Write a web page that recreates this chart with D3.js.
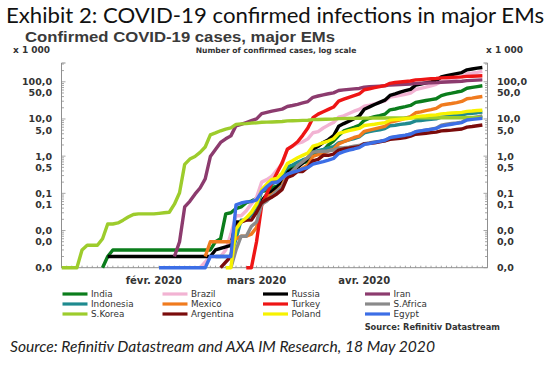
<!DOCTYPE html>
<html><head><meta charset="utf-8">
<script src="https://cdn.jsdelivr.net/npm/d3@7"></script>
<style>body{margin:0;background:#fff}svg{display:block}</style>
</head><body>
<svg id="c" width="549" height="365"></svg>
<script>
// ---------- DATA (cases, thousands; weekday observations) ----------
const seriesNames = ["India","Brazil","Russia","Iran","Indonesia","Mexico","Turkey","S.Africa","S.Korea","Argentina","Poland","Egypt"];

const india = [["2020-01-31",0.001],["2020-02-03",0.002],["2020-02-04",0.003],["2020-03-02",0.003],["2020-03-03",0.005],["2020-03-04",0.006],["2020-03-05",0.028],["2020-03-06",0.03],["2020-03-09",0.039],["2020-03-10",0.043],["2020-03-11",0.056],["2020-03-12",0.062],["2020-03-13",0.073],["2020-03-16",0.113],["2020-03-17",0.119],["2020-03-18",0.142],["2020-03-19",0.156],["2020-03-20",0.194],["2020-03-23",0.396],["2020-03-24",0.499],["2020-03-25",0.536],["2020-03-26",0.657],["2020-03-27",0.727],["2020-03-30",1.024],["2020-03-31",1.251],["2020-04-01",1.397],["2020-04-02",1.998],["2020-04-03",2.543],["2020-04-06",3.588],["2020-04-07",4.778],["2020-04-08",5.311],["2020-04-09",5.916],["2020-04-10",6.725],["2020-04-13",9.205],["2020-04-14",10.453],["2020-04-15",11.487],["2020-04-16",12.322],["2020-04-17",13.43],["2020-04-20",17.615],["2020-04-21",18.539],["2020-04-22",20.08],["2020-04-23",21.37],["2020-04-24",23.077],["2020-04-27",27.89],["2020-04-28",29.451],["2020-04-29",31.324],["2020-04-30",33.062],["2020-05-01",34.863],["2020-05-04",42.505],["2020-05-05",46.437],["2020-05-06",49.4],["2020-05-07",52.987],["2020-05-08",56.351],["2020-05-11",67.161],["2020-05-12",70.768],["2020-05-13",74.292],["2020-05-14",78.055]];

const brazil = [["2020-02-27",0.001],["2020-03-02",0.002],["2020-03-04",0.002],["2020-03-05",0.003],["2020-03-06",0.008],["2020-03-09",0.025],["2020-03-10",0.025],["2020-03-11",0.034],["2020-03-12",0.052],["2020-03-13",0.077],["2020-03-16",0.2],["2020-03-17",0.234],["2020-03-18",0.291],["2020-03-19",0.428],["2020-03-20",0.621],["2020-03-23",1.546],["2020-03-24",1.891],["2020-03-25",2.201],["2020-03-26",2.433],["2020-03-27",2.915],["2020-03-30",4.256],["2020-03-31",4.579],["2020-04-01",5.717],["2020-04-02",6.836],["2020-04-03",8.044],["2020-04-06",11.13],["2020-04-07",12.161],["2020-04-08",14.034],["2020-04-09",16.17],["2020-04-10",18.092],["2020-04-13",22.169],["2020-04-14",23.43],["2020-04-15",25.262],["2020-04-16",28.32],["2020-04-17",30.425],["2020-04-20",38.654],["2020-04-21",40.581],["2020-04-22",43.079],["2020-04-23",45.757],["2020-04-24",49.492],["2020-04-27",61.888],["2020-04-28",66.501],["2020-04-29",71.886],["2020-04-30",78.162],["2020-05-01",85.38],["2020-05-04",101.147],["2020-05-05",107.78],["2020-05-06",114.715],["2020-05-07",125.218],["2020-05-08",135.106],["2020-05-11",162.699],["2020-05-12",169.594],["2020-05-13",178.214],["2020-05-14",190.137]];

const russia = [["2020-02-03",0.002],["2020-03-02",0.002],["2020-03-03",0.003],["2020-03-06",0.004],["2020-03-09",0.017],["2020-03-10",0.017],["2020-03-11",0.02],["2020-03-12",0.028],["2020-03-13",0.034],["2020-03-16",0.063],["2020-03-17",0.093],["2020-03-18",0.114],["2020-03-19",0.147],["2020-03-20",0.199],["2020-03-23",0.367],["2020-03-24",0.438],["2020-03-25",0.495],["2020-03-26",0.658],["2020-03-27",0.84],["2020-03-30",1.534],["2020-03-31",1.836],["2020-04-01",2.337],["2020-04-02",2.777],["2020-04-03",3.548],["2020-04-06",6.343],["2020-04-07",7.497],["2020-04-08",8.672],["2020-04-09",10.131],["2020-04-10",11.917],["2020-04-13",18.328],["2020-04-14",21.102],["2020-04-15",24.49],["2020-04-16",27.938],["2020-04-17",32.008],["2020-04-20",42.853],["2020-04-21",47.121],["2020-04-22",52.763],["2020-04-23",57.999],["2020-04-24",62.773],["2020-04-27",80.949],["2020-04-28",87.147],["2020-04-29",93.558],["2020-04-30",99.399],["2020-05-01",106.498],["2020-05-04",134.687],["2020-05-05",145.268],["2020-05-06",155.37],["2020-05-07",165.929],["2020-05-08",177.16],["2020-05-11",209.688],["2020-05-12",221.344],["2020-05-13",232.243],["2020-05-14",242.271]];

const iran = [["2020-02-20",0.002],["2020-02-21",0.005],["2020-02-24",0.043],["2020-02-25",0.061],["2020-02-26",0.095],["2020-02-27",0.139],["2020-02-28",0.245],["2020-03-02",0.978],["2020-03-03",1.501],["2020-03-04",2.336],["2020-03-05",2.922],["2020-03-06",3.513],["2020-03-09",6.566],["2020-03-10",7.161],["2020-03-11",8.042],["2020-03-12",9.0],["2020-03-13",10.075],["2020-03-16",13.938],["2020-03-17",14.991],["2020-03-18",16.169],["2020-03-19",17.361],["2020-03-20",18.407],["2020-03-23",21.638],["2020-03-24",23.049],["2020-03-25",24.811],["2020-03-26",27.017],["2020-03-27",29.406],["2020-03-30",38.309],["2020-03-31",41.495],["2020-04-01",44.605],["2020-04-02",47.593],["2020-04-03",50.468],["2020-04-06",58.226],["2020-04-07",60.5],["2020-04-08",62.589],["2020-04-09",64.586],["2020-04-10",66.22],["2020-04-13",71.686],["2020-04-14",73.303],["2020-04-15",74.877],["2020-04-16",76.389],["2020-04-17",77.995],["2020-04-20",82.211],["2020-04-21",83.505],["2020-04-22",84.802],["2020-04-23",85.996],["2020-04-24",87.026],["2020-04-27",90.481],["2020-04-28",91.472],["2020-04-29",92.584],["2020-04-30",93.657],["2020-05-01",94.64],["2020-05-04",97.424],["2020-05-05",98.647],["2020-05-06",99.97],["2020-05-07",101.65],["2020-05-08",103.135],["2020-05-11",107.603],["2020-05-12",109.286],["2020-05-13",110.767],["2020-05-14",112.725]];

const indonesia = [["2020-03-03",0.002],["2020-03-06",0.002],["2020-03-09",0.006],["2020-03-10",0.019],["2020-03-11",0.019],["2020-03-12",0.027],["2020-03-13",0.034],["2020-03-16",0.117],["2020-03-17",0.134],["2020-03-18",0.172],["2020-03-19",0.227],["2020-03-20",0.311],["2020-03-23",0.514],["2020-03-24",0.579],["2020-03-25",0.686],["2020-03-26",0.79],["2020-03-27",0.893],["2020-03-30",1.285],["2020-03-31",1.414],["2020-04-01",1.528],["2020-04-02",1.677],["2020-04-03",1.79],["2020-04-06",2.273],["2020-04-07",2.491],["2020-04-08",2.738],["2020-04-09",2.956],["2020-04-10",3.293],["2020-04-13",4.241],["2020-04-14",4.557],["2020-04-15",4.839],["2020-04-16",5.136],["2020-04-17",5.516],["2020-04-20",6.575],["2020-04-21",6.76],["2020-04-22",7.135],["2020-04-23",7.418],["2020-04-24",7.775],["2020-04-27",8.882],["2020-04-28",9.096],["2020-04-29",9.511],["2020-04-30",9.771],["2020-05-01",10.118],["2020-05-04",11.192],["2020-05-05",11.587],["2020-05-06",12.071],["2020-05-07",12.438],["2020-05-08",12.776],["2020-05-11",14.032],["2020-05-12",14.265],["2020-05-13",14.749],["2020-05-14",15.438]];

const mexico = [["2020-02-28",0.002],["2020-03-02",0.005],["2020-03-06",0.005],["2020-03-09",0.006],["2020-03-10",0.007],["2020-03-11",0.007],["2020-03-12",0.008],["2020-03-13",0.012],["2020-03-16",0.053],["2020-03-17",0.082],["2020-03-18",0.093],["2020-03-19",0.118],["2020-03-20",0.164],["2020-03-23",0.316],["2020-03-24",0.367],["2020-03-25",0.405],["2020-03-26",0.475],["2020-03-27",0.585],["2020-03-30",0.993],["2020-03-31",1.094],["2020-04-01",1.215],["2020-04-02",1.378],["2020-04-03",1.51],["2020-04-06",2.143],["2020-04-07",2.439],["2020-04-08",2.785],["2020-04-09",3.181],["2020-04-10",3.441],["2020-04-13",4.661],["2020-04-14",5.014],["2020-04-15",5.399],["2020-04-16",5.847],["2020-04-17",6.297],["2020-04-20",8.261],["2020-04-21",8.772],["2020-04-22",9.501],["2020-04-23",10.544],["2020-04-24",11.633],["2020-04-27",14.677],["2020-04-28",15.529],["2020-04-29",16.752],["2020-04-30",17.799],["2020-05-01",19.224],["2020-05-04",23.471],["2020-05-05",24.905],["2020-05-06",26.025],["2020-05-07",27.634],["2020-05-08",29.616],["2020-05-11",35.022],["2020-05-12",36.327],["2020-05-13",38.324],["2020-05-14",40.186]];

const turkey = [["2020-03-11",0.001],["2020-03-12",0.001],["2020-03-13",0.005],["2020-03-16",0.047],["2020-03-17",0.098],["2020-03-18",0.191],["2020-03-19",0.359],["2020-03-20",0.67],["2020-03-23",1.529],["2020-03-24",1.872],["2020-03-25",2.433],["2020-03-26",3.629],["2020-03-27",5.698],["2020-03-30",10.827],["2020-03-31",13.531],["2020-04-01",15.679],["2020-04-02",18.135],["2020-04-03",20.921],["2020-04-06",30.217],["2020-04-07",34.109],["2020-04-08",38.226],["2020-04-09",42.282],["2020-04-10",47.029],["2020-04-13",61.049],["2020-04-14",65.111],["2020-04-15",69.392],["2020-04-16",74.193],["2020-04-17",78.546],["2020-04-20",90.98],["2020-04-21",95.591],["2020-04-22",98.674],["2020-04-23",101.79],["2020-04-24",104.912],["2020-04-27",112.261],["2020-04-28",114.653],["2020-04-29",117.589],["2020-04-30",120.204],["2020-05-01",122.392],["2020-05-04",127.659],["2020-05-05",129.491],["2020-05-06",131.744],["2020-05-07",133.721],["2020-05-08",135.569],["2020-05-11",139.771],["2020-05-12",141.475],["2020-05-13",143.114],["2020-05-14",144.749]];

const safrica = [["2020-03-06",0.001],["2020-03-09",0.003],["2020-03-10",0.007],["2020-03-11",0.007],["2020-03-12",0.013],["2020-03-13",0.017],["2020-03-16",0.051],["2020-03-17",0.062],["2020-03-18",0.085],["2020-03-19",0.116],["2020-03-20",0.15],["2020-03-23",0.274],["2020-03-24",0.402],["2020-03-25",0.554],["2020-03-26",0.709],["2020-03-27",0.927],["2020-03-30",1.28],["2020-03-31",1.326],["2020-04-01",1.353],["2020-04-02",1.38],["2020-04-03",1.462],["2020-04-06",1.655],["2020-04-07",1.686],["2020-04-08",1.749],["2020-04-09",1.845],["2020-04-10",1.934],["2020-04-13",2.173],["2020-04-14",2.272],["2020-04-15",2.415],["2020-04-16",2.506],["2020-04-17",2.605],["2020-04-20",3.158],["2020-04-21",3.3],["2020-04-22",3.465],["2020-04-23",3.635],["2020-04-24",3.953],["2020-04-27",4.546],["2020-04-28",4.793],["2020-04-29",4.996],["2020-04-30",5.35],["2020-05-01",5.647],["2020-05-04",6.783],["2020-05-05",7.22],["2020-05-06",7.572],["2020-05-07",7.808],["2020-05-08",8.232],["2020-05-11",10.015],["2020-05-12",10.652],["2020-05-13",11.35],["2020-05-14",12.074]];

const skorea = [["2020-01-21",0.001],["2020-01-24",0.001],["2020-01-27",0.003],["2020-01-28",0.004],["2020-01-30",0.004],["2020-01-31",0.006],["2020-02-03",0.015],["2020-02-04",0.015],["2020-02-05",0.016],["2020-02-06",0.019],["2020-02-07",0.023],["2020-02-10",0.027],["2020-02-11",0.028],["2020-02-14",0.028],["2020-02-17",0.029],["2020-02-18",0.03],["2020-02-19",0.031],["2020-02-20",0.051],["2020-02-21",0.104],["2020-02-24",0.602],["2020-02-25",0.833],["2020-02-26",0.977],["2020-02-27",1.261],["2020-02-28",1.766],["2020-03-02",3.736],["2020-03-03",4.212],["2020-03-04",4.812],["2020-03-05",5.328],["2020-03-06",5.766],["2020-03-09",7.134],["2020-03-10",7.382],["2020-03-11",7.513],["2020-03-12",7.755],["2020-03-13",7.869],["2020-03-16",8.162],["2020-03-17",8.236],["2020-03-18",8.32],["2020-03-19",8.413],["2020-03-20",8.565],["2020-03-23",8.897],["2020-03-24",8.961],["2020-03-25",9.037],["2020-03-26",9.137],["2020-03-27",9.241],["2020-03-30",9.583],["2020-03-31",9.661],["2020-04-03",9.976],["2020-04-06",10.237],["2020-04-10",10.45],["2020-04-13",10.512],["2020-04-17",10.635],["2020-04-20",10.674],["2020-04-24",10.708],["2020-04-27",10.738],["2020-05-01",10.774],["2020-05-04",10.804],["2020-05-08",10.822],["2020-05-11",10.909],["2020-05-14",10.991]];

const argentina = [["2020-03-04",0.001],["2020-03-06",0.002],["2020-03-09",0.012],["2020-03-10",0.017],["2020-03-11",0.019],["2020-03-12",0.019],["2020-03-13",0.031],["2020-03-16",0.056],["2020-03-17",0.068],["2020-03-18",0.079],["2020-03-19",0.097],["2020-03-20",0.128],["2020-03-23",0.266],["2020-03-24",0.301],["2020-03-25",0.387],["2020-03-26",0.387],["2020-03-27",0.502],["2020-03-30",0.745],["2020-03-31",0.82],["2020-04-01",1.054],["2020-04-02",1.054],["2020-04-03",1.133],["2020-04-06",1.451],["2020-04-07",1.554],["2020-04-08",1.628],["2020-04-09",1.715],["2020-04-10",1.795],["2020-04-13",2.142],["2020-04-14",2.208],["2020-04-15",2.277],["2020-04-16",2.443],["2020-04-17",2.571],["2020-04-20",2.839],["2020-04-21",2.941],["2020-04-22",3.031],["2020-04-23",3.144],["2020-04-24",3.435],["2020-04-27",3.892],["2020-04-28",4.003],["2020-04-29",4.127],["2020-04-30",4.285],["2020-05-01",4.428],["2020-05-04",4.783],["2020-05-05",4.887],["2020-05-06",5.02],["2020-05-07",5.208],["2020-05-08",5.371],["2020-05-11",6.034],["2020-05-12",6.265],["2020-05-13",6.563],["2020-05-14",6.879]];

const poland = [["2020-03-05",0.001],["2020-03-06",0.001],["2020-03-09",0.011],["2020-03-10",0.017],["2020-03-11",0.022],["2020-03-12",0.031],["2020-03-13",0.051],["2020-03-16",0.125],["2020-03-17",0.177],["2020-03-18",0.238],["2020-03-19",0.251],["2020-03-20",0.355],["2020-03-23",0.634],["2020-03-24",0.749],["2020-03-25",0.901],["2020-03-26",1.051],["2020-03-27",1.221],["2020-03-30",1.862],["2020-03-31",2.055],["2020-04-01",2.311],["2020-04-02",2.554],["2020-04-03",2.946],["2020-04-06",4.102],["2020-04-07",4.413],["2020-04-08",4.848],["2020-04-09",5.205],["2020-04-10",5.575],["2020-04-13",6.674],["2020-04-14",6.934],["2020-04-15",7.202],["2020-04-16",7.582],["2020-04-17",7.918],["2020-04-20",9.287],["2020-04-21",9.593],["2020-04-22",9.856],["2020-04-23",10.169],["2020-04-24",10.511],["2020-04-27",11.617],["2020-04-28",11.902],["2020-04-29",12.218],["2020-04-30",12.64],["2020-05-01",12.877],["2020-05-04",13.693],["2020-05-05",14.006],["2020-05-06",14.431],["2020-05-07",14.74],["2020-05-08",15.047],["2020-05-11",15.996],["2020-05-12",16.326],["2020-05-13",16.921],["2020-05-14",17.204]];

const egypt = [["2020-02-17",0.001],["2020-02-28",0.001],["2020-03-02",0.002],["2020-03-06",0.002],["2020-03-09",0.049],["2020-03-10",0.055],["2020-03-11",0.059],["2020-03-12",0.06],["2020-03-13",0.067],["2020-03-16",0.11],["2020-03-17",0.15],["2020-03-18",0.196],["2020-03-19",0.196],["2020-03-20",0.256],["2020-03-23",0.327],["2020-03-24",0.366],["2020-03-25",0.402],["2020-03-26",0.456],["2020-03-27",0.495],["2020-03-30",0.609],["2020-03-31",0.656],["2020-04-01",0.71],["2020-04-02",0.779],["2020-04-03",0.865],["2020-04-06",1.173],["2020-04-07",1.322],["2020-04-08",1.45],["2020-04-09",1.56],["2020-04-10",1.699],["2020-04-13",2.065],["2020-04-14",2.19],["2020-04-15",2.35],["2020-04-16",2.505],["2020-04-17",2.673],["2020-04-20",3.144],["2020-04-21",3.333],["2020-04-22",3.49],["2020-04-23",3.659],["2020-04-24",3.891],["2020-04-27",4.534],["2020-04-28",4.782],["2020-04-29",5.042],["2020-04-30",5.268],["2020-05-01",5.537],["2020-05-04",6.465],["2020-05-05",6.813],["2020-05-06",7.201],["2020-05-07",7.588],["2020-05-08",7.981],["2020-05-11",9.4],["2020-05-12",9.746],["2020-05-13",10.093],["2020-05-14",10.431]];

const seriesData = [india, brazil, russia, iran, indonesia, mexico, turkey, safrica, skorea, argentina, poland, egypt];

const yTickValues = [100, 50, 10, 5, 1, 0.5, 0.1, 0.05, 0.01, 0.005, 0.001];
const yTickLabels = ["100,0","50,0","10,0","5,0","1,0","0,5","0,1","0,1","0,0","0,0","0,0"];
const xLabelDates = ["2020-02-14","2020-03-13","2020-04-13"];
const xLabels = ["févr. 2020","mars 2020","avr. 2020"];
const xStart = "2020-01-21", xEnd = "2020-05-15";

// ---------- STYLE ----------
const colors = ["#0b7d1c","#f2b3d3","#000000","#8c3b6e","#1f8a8f","#f07b1e","#ee1515","#8a8a8a","#9dcc2c","#7a0b0b","#f7f200","#3c6ee6"];
const M = {left: 61.5, right: 487.5, top: 63, bottom: 267.7};

const svg = d3.select("#c");
const parse = d3.utcParse("%Y-%m-%d");
const base = Date.UTC(2020, 0, 20); // Monday
function bd(s) { // weekday index (weekends excluded)
  const days = Math.round((parse(s) - base) / 864e5);
  const w = Math.floor(days / 7), r = days - w * 7;
  return w * 5 + Math.min(r, 5);
}
const x = d3.scaleLinear().domain([bd(xStart), bd(xEnd)]).range([M.left, M.right]);
const y = d3.scaleLog().domain([0.001, 320]).range([M.bottom, M.top]);

// Titles
svg.append("text").attr("x", 6).attr("y", 23).attr("font-family", "Lato, 'Open Sans', sans-serif")
  .attr("font-size", 21).attr("fill", "#111").attr("textLength", 538).attr("lengthAdjust", "spacingAndGlyphs")
  .text("Exhibit 2: COVID-19 confirmed infections in major EMs");
svg.append("text").attr("x", 25).attr("y", 41.5).attr("font-family", "'Liberation Sans', Arial, sans-serif")
  .attr("font-weight", "bold").attr("font-size", 15).attr("fill", "#3a3a3a").attr("textLength", 310).attr("lengthAdjust", "spacingAndGlyphs")
  .text("Confirmed COVID-19 cases, major EMs");
const sans = "'DejaVu Sans', Verdana, sans-serif";
svg.append("text").attr("x", 13).attr("y", 53).attr("font-family", sans).attr("font-weight", "bold")
  .attr("font-size", 9).attr("fill", "#333").text("x 1 000");
svg.append("text").attr("x", 486).attr("y", 53).attr("font-family", sans).attr("font-weight", "bold")
  .attr("font-size", 9).attr("fill", "#333").text("x 1 000");
svg.append("text").attr("x", 276).attr("y", 53).attr("text-anchor", "middle").attr("font-family", sans)
  .attr("font-weight", "bold").attr("font-size", 7.6).attr("fill", "#333").text("Number of confirmed cases, log scale");

// Axes
const minor = [];
for (let e = -3; e <= 2; e++) for (let k = 1; k <= 9; k++) { const v = k * Math.pow(10, e); if (v <= 320) minor.push(v); }
const axisColor = "#8f8f8f";
function drawY(side) {
  const g = svg.append("g");
  const xa = side === "left" ? M.left : M.right;
  const dir = side === "left" ? 1 : -1;
  g.append("line").attr("x1", xa).attr("x2", xa).attr("y1", M.top).attr("y2", M.bottom).attr("stroke", axisColor).attr("stroke-width", 1);
  g.selectAll("line.m").data(minor).join("line").attr("class", "m")
    .attr("x1", xa).attr("x2", d => xa + dir * (Math.abs(Math.log10(d) - Math.round(Math.log10(d))) < 1e-9 ? 4 : 2.5))
    .attr("y1", d => y(d)).attr("y2", d => y(d)).attr("stroke", axisColor).attr("stroke-width", 0.8);
  g.append("line").attr("x1", xa).attr("x2", xa + dir * 4).attr("y1", M.top).attr("y2", M.top).attr("stroke", axisColor);
  g.selectAll("text").data(yTickValues).join("text")
    .attr("x", side === "left" ? 52 : 497).attr("y", d => y(d)).attr("dy", "0.36em")
    .attr("text-anchor", side === "left" ? "end" : "start")
    .attr("font-family", sans).attr("font-weight", "bold").attr("font-size", 9.5).attr("fill", "#333")
    .text((d, i) => yTickLabels[i]);
}
drawY("left"); drawY("right");

// x axis
const gx = svg.append("g");
gx.append("line").attr("x1", M.left).attr("x2", M.right).attr("y1", M.bottom).attr("y2", M.bottom).attr("stroke", axisColor);
const xt = d3.range(bd(xStart), bd(xEnd) + 1);
gx.selectAll("line.t").data(xt).join("line").attr("class", "t")
  .attr("x1", d => x(d)).attr("x2", d => x(d)).attr("y1", M.bottom).attr("y2", M.bottom - 2)
  .attr("stroke", axisColor).attr("stroke-width", 0.8);
gx.selectAll("text").data(xLabelDates).join("text")
  .attr("x", d => x(bd(d))).attr("y", 284).attr("text-anchor", "middle")
  .attr("font-family", sans).attr("font-weight", "bold").attr("font-size", 10).attr("fill", "#333")
  .text((d, i) => xLabels[i]);

// Lines
svg.append("clipPath").attr("id", "clip").append("rect").attr("x", M.left).attr("y", 55).attr("width", M.right - M.left).attr("height", 215);
const line = d3.line().x(d => x(bd(d[0]))).y(d => y(d[1]));
svg.append("g").attr("clip-path", "url(#clip)").selectAll("path").data(seriesData).join("path")
  .attr("d", line).attr("fill", "none").attr("stroke", (d, i) => colors[i]).attr("stroke-width", 3.4)
  .attr("stroke-linejoin", "round");

// Legend
const colX = [62.5, 162.5, 263, 365];
const rowY = [294, 304, 314];
const lg = svg.append("g");
seriesNames.forEach((name, i) => {
  const c = i % 4, r = Math.floor(i / 4);
  lg.append("line").attr("x1", colX[c]).attr("x2", colX[c] + 25).attr("y1", rowY[r]).attr("y2", rowY[r])
    .attr("stroke", colors[i]).attr("stroke-width", 3.2);
  lg.append("text").attr("x", colX[c] + 28.5).attr("y", rowY[r]).attr("dy", "0.35em")
    .attr("font-family", sans).attr("font-size", 8.8).attr("fill", "#333").text(name);
});
svg.append("text").attr("x", 500).attr("y", 330).attr("text-anchor", "end").attr("font-family", sans)
  .attr("font-weight", "bold").attr("font-size", 8.3).attr("fill", "#333").text("Source: Refinitiv Datastream");
svg.append("text").attr("x", 10).attr("y", 352).attr("font-family", "Lato, 'Open Sans', sans-serif")
  .attr("font-style", "italic").attr("font-size", 15.5).attr("fill", "#222").attr("textLength", 425).attr("lengthAdjust", "spacingAndGlyphs")
  .text("Source: Refinitiv Datastream and AXA IM Research, 18 May 2020");
</script>
</body></html>
